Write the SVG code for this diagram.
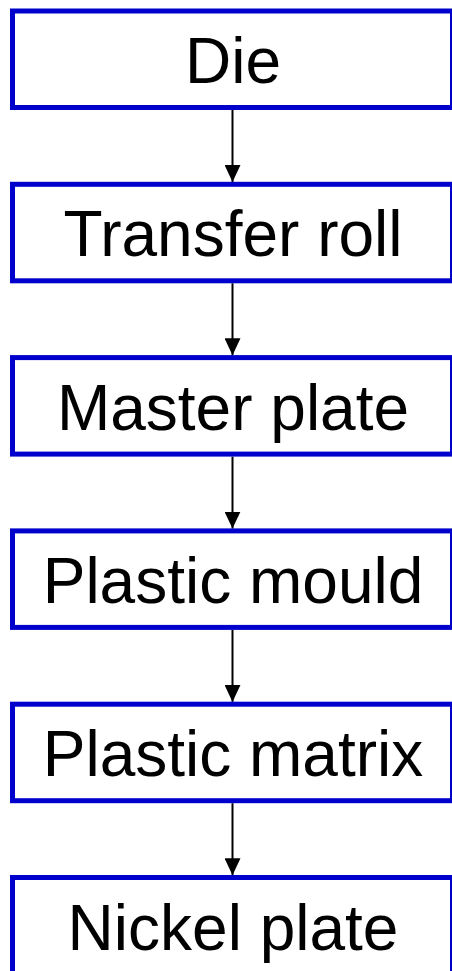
<svg xmlns="http://www.w3.org/2000/svg" width="452" height="971" viewBox="0 0 452 971">
<style>
.box{fill:#ffffff;stroke:#0000cc;stroke-width:5}
.lbl{font-family:"Liberation Sans",Arial,sans-serif;font-size:64px;fill:#000000;text-anchor:middle}
.conn{stroke:#000000;stroke-width:2;fill:none}
</style>
<defs>
<marker id="ah" markerUnits="userSpaceOnUse" markerWidth="17" markerHeight="16" viewBox="0 0 17 16" refX="17" refY="8" orient="auto">
<path d="M0,0 L17,8 L0,16 Z" fill="#000000"/>
</marker>
</defs>
<rect width="452" height="971" fill="#ffffff"/>
<g id="connectors">
<line class="conn" x1="232.5" y1="110" x2="232.5" y2="182" marker-end="url(#ah)"/>
<line class="conn" x1="232.5" y1="283.3" x2="232.5" y2="355.3" marker-end="url(#ah)"/>
<line class="conn" x1="232.5" y1="456.6" x2="232.5" y2="528.6" marker-end="url(#ah)"/>
<line class="conn" x1="232.5" y1="629.9" x2="232.5" y2="701.9" marker-end="url(#ah)"/>
<line class="conn" x1="232.5" y1="803.2" x2="232.5" y2="875.2" marker-end="url(#ah)"/>
</g>
<g id="die">
<rect class="box" x="12.5" y="11" width="440" height="96.5"/>
<text class="lbl" x="233" y="83">Die</text>
</g>
<g id="transfer-roll">
<rect class="box" x="12.5" y="184.3" width="440" height="96.5"/>
<text class="lbl" x="233" y="256.3">Transfer roll</text>
</g>
<g id="master-plate">
<rect class="box" x="12.5" y="357.6" width="440" height="96.5"/>
<text class="lbl" x="233" y="429.6">Master plate</text>
</g>
<g id="plastic-mould">
<rect class="box" x="12.5" y="530.9" width="440" height="96.5"/>
<text class="lbl" x="233" y="602.9">Plastic mould</text>
</g>
<g id="plastic-matrix">
<rect class="box" x="12.5" y="704.2" width="440" height="96.5"/>
<text class="lbl" x="233" y="776.2">Plastic matrix</text>
</g>
<g id="nickel-plate">
<rect class="box" x="12.5" y="877.5" width="440" height="96.5"/>
<text class="lbl" x="233" y="949.5">Nickel plate</text>
</g>
</svg>
